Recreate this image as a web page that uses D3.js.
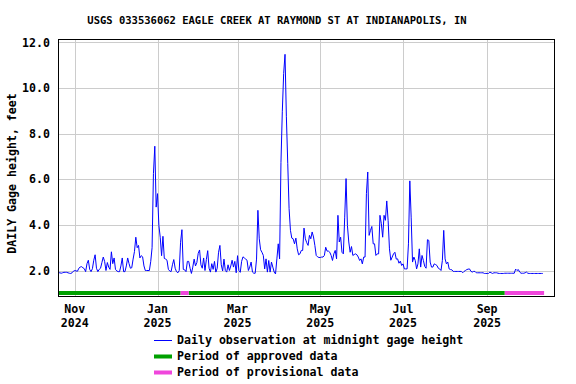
<!DOCTYPE html>
<html>
<head>
<meta charset="utf-8">
<script src="https://cdn.jsdelivr.net/npm/d3@7"></script>
<style>
  body { margin: 0; background: #fff; }
  svg { display: block; font-family: "DejaVu Sans Mono", monospace; font-weight: bold; fill: #000; }
  .grid line { stroke: #cccccc; stroke-width: 1; }
  .tick-label { font-size: 11.6px; }
  .title { font-size: 10.5px; }
</style>
</head>
<body>
<div id="chart"></div>
<script>
// chart copy
const title = 'USGS 033536062 EAGLE CREEK AT RAYMOND ST AT INDIANAPOLIS, IN';
const yLabel = 'DAILY Gage height, feet';

// daily gage height at midnight, one per day from firstDay
const firstDay = new Date(2024, 9, 20);
const gageHeight = [
  1.90,1.90,1.88,1.90,1.92,1.92,1.92,1.90,1.88,1.87,
  1.90,1.97,2.00,1.98,1.97,2.10,2.15,2.17,2.12,2.08,
  1.95,2.30,2.45,2.05,1.95,2.08,2.45,2.69,2.10,1.95,
  2.05,2.10,2.35,2.59,2.40,2.00,2.35,2.15,2.05,2.82,
  2.30,2.55,2.05,1.98,1.95,1.95,2.20,2.55,1.95,1.95,
  2.20,2.55,2.30,2.10,2.12,2.50,2.83,3.46,3.00,3.10,
  2.55,2.65,2.60,2.20,2.00,2.00,2.00,2.00,2.40,3.00,
  6.25,7.45,4.78,5.37,3.98,3.46,2.65,3.50,2.53,2.50,
  2.45,2.05,1.98,1.95,2.25,2.48,2.10,1.95,1.90,2.00,
  3.24,3.79,2.05,2.03,1.95,2.40,2.40,2.10,1.87,2.15,
  2.50,2.20,2.35,2.75,2.90,2.25,2.10,2.55,2.00,2.48,
  2.87,2.10,1.93,2.30,2.05,2.40,1.93,2.10,2.80,3.10,
  2.25,1.98,2.50,2.00,1.93,2.25,2.00,2.20,2.45,2.15,
  2.40,1.90,2.65,2.00,1.92,2.40,2.60,2.55,2.50,2.45,
  2.00,2.15,2.37,1.93,1.88,1.88,2.50,4.64,3.39,2.91,
  2.80,2.66,2.07,2.51,1.93,2.44,1.93,2.37,2.15,1.93,
  1.85,2.51,3.17,2.51,6.73,8.96,10.64,11.48,8.74,6.70,
  4.71,3.76,3.42,3.39,3.17,3.42,2.95,2.69,2.73,2.88,
  2.88,3.86,3.39,3.22,3.10,3.54,3.39,3.69,3.47,3.10,
  2.66,2.60,2.57,2.57,2.59,2.59,2.66,3.02,2.85,2.85,
  2.80,2.66,2.44,2.73,2.88,2.51,4.42,3.25,3.46,2.80,
  2.73,4.34,6.03,3.98,3.25,2.80,3.05,2.66,2.70,2.73,
  2.69,2.59,2.44,2.51,2.29,2.59,2.59,5.37,6.32,3.54,
  3.76,3.93,3.17,3.17,2.66,2.73,2.73,4.42,4.05,3.46,
  4.42,4.20,5.05,4.20,2.95,2.45,2.59,2.73,2.80,2.50,
  2.51,2.32,2.41,2.22,2.29,2.07,2.07,2.07,3.17,5.93,
  4.34,2.37,2.59,2.44,2.07,2.29,2.95,2.15,2.66,2.44,
  2.18,2.10,3.35,3.32,2.37,2.15,2.15,2.29,2.26,2.22,
  2.10,2.07,2.00,2.44,3.76,2.51,2.29,2.37,2.07,2.04,
  2.03,1.96,1.96,1.96,1.96,1.96,1.96,1.96,1.90,1.96,
  2.00,2.04,2.06,2.07,1.97,1.93,1.96,1.96,1.90,1.90,
  1.90,1.90,1.90,1.90,1.87,1.87,1.87,1.87,1.93,1.90,
  1.87,1.90,1.90,1.90,1.88,1.87,1.87,1.87,1.87,1.88,
  1.88,1.88,1.88,1.88,1.88,1.88,1.88,2.06,2.00,2.04,
  1.93,1.88,1.88,1.88,1.90,1.93,1.88,1.87,1.87,1.87,
  1.87,1.87,1.87,1.87,1.87,1.87,1.87,1.87
];

// axis ticks
const yTicks = [2, 4, 6, 8, 10, 12];
const monthTicks = [
  new Date(2024, 10, 1), new Date(2025, 0, 1), new Date(2025, 2, 1),
  new Date(2025, 4, 1), new Date(2025, 6, 1), new Date(2025, 8, 1)
];
const monthLabels = ['Nov', 'Jan', 'Mar', 'May', 'Jul', 'Sep'];
const yearLabels = ['2024', '2025', '2025', '2025', '2025', '2025'];

// data-status periods
const approvedPeriods = [
  [new Date(2024, 9, 20), new Date(2025, 0, 18)],
  [new Date(2025, 0, 24), new Date(2025, 8, 14)]
];
const provisionalPeriods = [
  [new Date(2025, 0, 18), new Date(2025, 0, 24)],
  [new Date(2025, 8, 14), new Date(2025, 9, 13)]
];

const legendLabels = [
  'Daily observation at midnight gage height',
  'Period of approved data',
  'Period of provisional data'
];
const legendColors = ['#0000ff', '#00a000', '#f046dc'];

const width = 576, height = 384;
const margin = {top: 39.5, right: 21.5, bottom: 87.5, left: 58.5};

const svg = d3.select('#chart').append('svg')
  .attr('width', width)
  .attr('height', height);

const x = d3.scaleTime()
  .domain([new Date(2024, 9, 20), new Date(2025, 9, 20, 16)])
  .range([margin.left, width - margin.right]);

const y = d3.scaleLinear()
  .domain([0.86, 12.13])
  .range([height - margin.bottom, margin.top]);

const data = gageHeight.map((v, i) => ({date: d3.timeDay.offset(firstDay, i), value: v}));

// title
svg.append('text')
  .attr('class', 'title')
  .attr('x', 277)
  .attr('y', 24)
  .attr('text-anchor', 'middle')
  .text(title);

// grid
const grid = svg.append('g').attr('class', 'grid');
grid.selectAll('line.h').data(yTicks).enter().append('line')
  .attr('class', 'h')
  .attr('x1', margin.left).attr('x2', width - margin.right)
  .attr('y1', d => Math.round(y(d)) + 0.5).attr('y2', d => Math.round(y(d)) + 0.5);
grid.selectAll('line.v').data(monthTicks).enter().append('line')
  .attr('class', 'v')
  .attr('x1', d => Math.round(x(d)) + 0.5).attr('x2', d => Math.round(x(d)) + 0.5)
  .attr('y1', margin.top).attr('y2', height - margin.bottom);

// status bars along bottom
const barY = height - margin.bottom - 5.5;
svg.selectAll('rect.approved').data(approvedPeriods).enter().append('rect')
  .attr('class', 'approved')
  .attr('x', d => x(d[0]))
  .attr('width', d => x(d[1]) - x(d[0]))
  .attr('y', barY)
  .attr('height', 4)
  .attr('fill', legendColors[1]);
svg.selectAll('rect.provisional').data(provisionalPeriods).enter().append('rect')
  .attr('class', 'provisional')
  .attr('x', d => x(d[0]))
  .attr('width', d => x(d[1]) - x(d[0]))
  .attr('y', barY)
  .attr('height', 4)
  .attr('fill', legendColors[2]);

// gage height line
svg.append('path')
  .datum(data)
  .attr('fill', 'none')
  .attr('stroke', legendColors[0])
  .attr('stroke-width', 1)
  .attr('d', d3.line().x(d => x(d.date)).y(d => y(d.value)));

// frame
svg.append('rect')
  .attr('x', margin.left)
  .attr('y', margin.top)
  .attr('width', width - margin.left - margin.right)
  .attr('height', height - margin.top - margin.bottom)
  .attr('fill', 'none')
  .attr('stroke', '#000')
  .attr('stroke-width', 1);

// y tick labels
svg.selectAll('text.ylab').data(yTicks).enter().append('text')
  .attr('class', 'tick-label ylab')
  .attr('x', 50)
  .attr('y', d => y(d))
  .attr('dy', '0.36em')
  .attr('text-anchor', 'end')
  .text(d3.format('.1f'));

// x tick labels, two lines
svg.selectAll('text.mlab').data(monthTicks).enter().append('text')
  .attr('class', 'tick-label mlab')
  .attr('x', d => x(d))
  .attr('y', 313)
  .attr('text-anchor', 'middle')
  .text((d, i) => monthLabels[i]);
svg.selectAll('text.yrlab').data(monthTicks).enter().append('text')
  .attr('class', 'tick-label yrlab')
  .attr('x', d => x(d))
  .attr('y', 327)
  .attr('text-anchor', 'middle')
  .text((d, i) => yearLabels[i]);

// y axis title
svg.append('text')
  .attr('class', 'tick-label')
  .attr('transform', 'translate(16,173.5) rotate(-90)')
  .attr('text-anchor', 'middle')
  .text(yLabel);

// legend
const legend = svg.append('g').attr('class', 'legend');
legendLabels.forEach((label, i) => {
  const ly = 340.5 + i * 16;
  legend.append('rect')
    .attr('x', 154)
    .attr('y', i === 0 ? ly - 0.5 : ly - 2)
    .attr('width', 18)
    .attr('height', i === 0 ? 1 : 4)
    .attr('fill', legendColors[i]);
  legend.append('text')
    .attr('class', 'tick-label')
    .attr('x', 177)
    .attr('y', ly)
    .attr('dy', '0.32em')
    .text(label);
});
</script>
</body>
</html>
